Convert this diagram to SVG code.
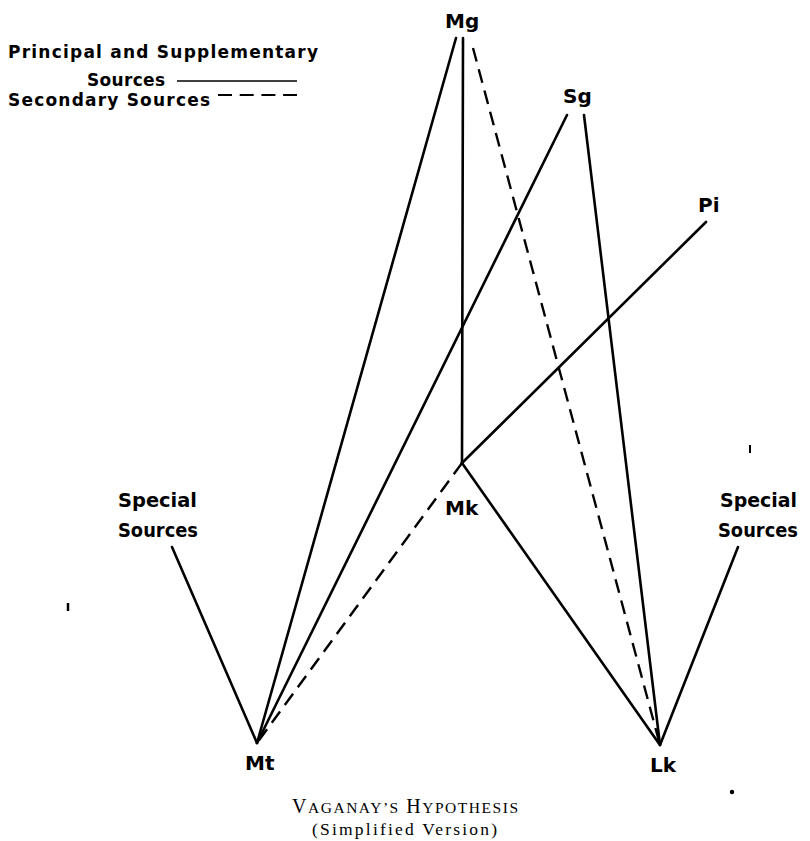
<svg xmlns="http://www.w3.org/2000/svg" width="810" height="841" viewBox="0 0 810 841">
<style>
.lbl{font-family:"DejaVu Sans","Liberation Sans",sans-serif;font-weight:bold;font-size:20px;fill:#000}
.leg{font-family:"DejaVu Sans","Liberation Sans",sans-serif;font-weight:bold;font-size:17px;fill:#000}
.ttl{font-family:"Liberation Serif","DejaVu Serif",serif;fill:#000}
.solid{stroke:#000;stroke-width:2.6;fill:none;stroke-linecap:round}
.dash{stroke:#000;stroke-width:2.4;fill:none;stroke-dasharray:14 8}
</style>
<rect width="810" height="841" fill="#fff"/>
<g id="legend">
<text class="leg" x="8" y="58" textLength="310" lengthAdjust="spacing">Principal and Supplementary</text>
<text class="leg" x="87" y="86" textLength="78" lengthAdjust="spacing">Sources</text>
<line x1="177" y1="81" x2="297" y2="81" stroke="#000" stroke-width="1.6"/>
<text class="leg" x="8" y="106" textLength="202" lengthAdjust="spacing">Secondary Sources</text>
<line x1="218" y1="95" x2="297" y2="95" stroke="#000" stroke-width="1.8" stroke-dasharray="14 7.7"/>
</g>
<g id="connectors">
<line class="solid" x1="456" y1="38" x2="257" y2="743"/>
<line class="solid" x1="463" y1="38" x2="462" y2="463"/>
<line class="dash" x1="473" y1="48" x2="660" y2="745"/>
<line class="solid" x1="567" y1="115" x2="257" y2="743"/>
<line class="solid" x1="584" y1="115" x2="660" y2="745"/>
<line class="solid" x1="706" y1="222" x2="462" y2="463"/>
<line class="dash" x1="462" y1="463" x2="257" y2="743"/>
<line class="solid" x1="462" y1="463" x2="660" y2="745"/>
<line class="solid" x1="172" y1="547" x2="257" y2="743"/>
<line class="solid" x1="738" y1="547" x2="660" y2="745"/>
</g>
<g id="Mg"><text class="lbl" x="445" y="28">Mg</text></g>
<g id="Sg"><text class="lbl" x="563" y="103">Sg</text></g>
<g id="Pi"><text class="lbl" x="698" y="212">Pi</text></g>
<g id="Mk"><text class="lbl" x="445" y="515">Mk</text></g>
<g id="Mt"><text class="lbl" x="245" y="770">Mt</text></g>
<g id="Lk"><text class="lbl" x="650" y="772" font-size="18">Lk</text></g>
<g id="special-left">
<text class="lbl" x="118" y="507" font-size="19" textLength="79" lengthAdjust="spacingAndGlyphs">Special</text>
<text class="lbl" x="118" y="537" font-size="19" textLength="80" lengthAdjust="spacingAndGlyphs">Sources</text>
</g>
<g id="special-right">
<text class="lbl" x="720" y="507" font-size="19" textLength="77" lengthAdjust="spacingAndGlyphs">Special</text>
<text class="lbl" x="718" y="537" font-size="19" textLength="80" lengthAdjust="spacingAndGlyphs">Sources</text>
</g>
<g id="title">
<text class="ttl" x="292" y="813" font-size="20" textLength="226" lengthAdjust="spacing">V<tspan font-size="15.5">AGANAY’S</tspan> H<tspan font-size="15.5">YPOTHESIS</tspan></text>
<text class="ttl" x="312" y="835" font-size="17.5" textLength="185" lengthAdjust="spacing">(Simplified Version)</text>
</g>
<g id="marks">
<line x1="750" y1="445" x2="750" y2="453" stroke="#000" stroke-width="2"/>
<line x1="68" y1="603" x2="68" y2="611" stroke="#000" stroke-width="2.5"/>
<circle cx="732" cy="792" r="2.2" fill="#000"/>
</g>
</svg>
